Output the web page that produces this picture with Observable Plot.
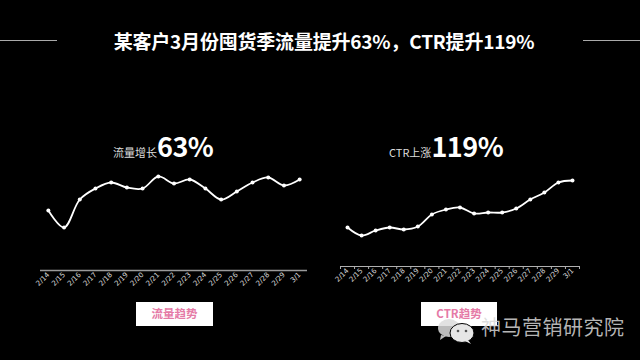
<!DOCTYPE html>
<html>
<head>
<meta charset="utf-8">
<script src="https://cdn.jsdelivr.net/npm/d3@7"></script>
<script src="https://cdn.jsdelivr.net/npm/@observablehq/plot@0.6"></script>
<style>
  html, body { margin: 0; padding: 0; background: #000; }
  #root { position: relative; width: 640px; height: 360px; background: #000; overflow: hidden;
          font-family: "Noto Sans CJK SC", "Noto Sans", sans-serif; color: #fff; }
  .abs { position: absolute; }
  #title { left: 0; width: 640px; top: 27px; text-align: center; font-size: 19px; font-weight: bold;
           letter-spacing: -0.2px; padding-left: 8px; box-sizing: border-box; }
  .hline { height: 1px; background: #aaa; top: 40px; }
  .head { top: 126px; white-space: nowrap; }
  .head .small { font-size: 11px; color: #ddd; }
  .head .big { font-size: 27px; font-weight: bold; letter-spacing: -0.5px; }
  .btn { background: #fff; color: #e57aa6; font-size: 11.5px; font-weight: bold; text-align: center;
         line-height: 22px; height: 24px; top: 302px; }
  #wm { left: 481px; top: 312px; font-size: 20px; color: rgba(215,215,215,0.85); letter-spacing: 0.5px; }
</style>
</head>
<body>
<div id="root">
  <div class="abs hline" style="left:0;width:57px;"></div>
  <div class="abs hline" style="left:583px;width:57px;top:39.5px;"></div>
  <div id="title" class="abs"></div>
  <div class="abs head" id="headL" style="left:113px;"><span class="small"></span><span class="big"></span></div>
  <div class="abs head" id="headR" style="left:389px;"><span class="small"></span><span class="big"></span></div>
  <div id="chartL" class="abs" style="left:0;top:0;"></div>
  <div id="chartR" class="abs" style="left:320px;top:0;"></div>
  <div class="abs btn" id="btnL" style="left:136px;width:77px;"></div>
  <div class="abs btn" id="btnR" style="left:421px;width:76px;"></div>
  <svg class="abs" style="left:437px;top:318px;" width="42" height="26">
    <ellipse cx="12" cy="10" rx="11" ry="9" fill="rgba(220,220,220,0.85)"/>
    <path d="M4 17 L3 22 L9 18 Z" fill="rgba(220,220,220,0.85)"/>
    <ellipse cx="25" cy="15" rx="12" ry="9.5" fill="#e6e6e6" stroke="#000" stroke-width="1"/>
    <path d="M31 22 L34 26 L28 23 Z" fill="#e6e6e6"/>
    <circle cx="21" cy="13" r="1.3" fill="#555"/>
    <circle cx="29" cy="13" r="1.3" fill="#555"/>
  </svg>
  <div id="wm" class="abs"></div>
</div>
<script>
const title = "某客户3月份囤货季流量提升63%，CTR提升119%";
const dates = ["2/14","2/15","2/16","2/17","2/18","2/19","2/20","2/21","2/22","2/23","2/24","2/25","2/26","2/27","2/28","2/29","3/1"];
const traffic = [60, 43, 71, 82, 88, 83, 82, 94, 87, 91, 82, 71, 79, 88, 93, 85, 91];
const ctr = [39, 31, 36, 39, 37, 40, 52, 57, 59, 53, 54, 54, 58, 67, 74, 84, 86];
const headLeft = ["流量增长", "63%"];
const headRight = ["CTR上涨", "119%"];
const buttons = ["流量趋势", "CTR趋势"];
const watermark = "神马营销研究院";

document.getElementById("title").textContent = title;
document.querySelector("#headL .small").textContent = headLeft[0];
document.querySelector("#headL .big").textContent = headLeft[1];
document.querySelector("#headR .small").textContent = headRight[0];
document.querySelector("#headR .big").textContent = headRight[1];
document.getElementById("btnL").textContent = buttons[0];
document.getElementById("btnR").textContent = buttons[1];
document.getElementById("wm").textContent = watermark;

const rowsL = dates.map((d, i) => ({date: d, v: traffic[i]}));
const rowsR = dates.map((d, i) => ({date: d, v: ctr[i]}));

function chart({rows, width, marginLeft, marginRight, axisY, axisColor, axisWidth, ticks}) {
  const innerW = width - marginLeft - marginRight;
  const half = innerW / dates.length / 2;
  const marks = [
    Plot.ruleY([0], {stroke: axisColor, strokeWidth: axisWidth}),
    Plot.axisX({tickSize: 0, tickRotate: -45, tickPadding: 3, fontSize: 7, fill: "#d8d8d8",
                fontFamily: "DejaVu Sans", label: null}),
    Plot.line(rows, {x: "date", y: "v", stroke: "#fff", strokeWidth: 1.8, curve: "catmull-rom"}),
    Plot.dot(rows, {x: "date", y: "v", r: 2, fill: "#fff"})
  ];
  if (ticks) {
    marks.push(Plot.ruleX(dates, {x: d => d, y1: 0, y2: -3, dx: -half, stroke: axisColor}));
    marks.push(Plot.ruleX(dates.slice(-1), {x: d => d, y1: 0, y2: -3, dx: half, stroke: axisColor}));
  }
  return Plot.plot({
    width, height: 360,
    marginLeft, marginRight, marginTop: 0, marginBottom: 360 - axisY,
    style: {background: "transparent", color: "#fff", overflow: "visible"},
    x: {type: "point", domain: dates, padding: 0.5, round: false},
    y: {domain: [0, 100], range: [axisY, axisY - 100], axis: null},
    marks
  });
}

document.getElementById("chartL").append(chart({rows: rowsL, width: 320, marginLeft: 40, marginRight: 13,
  axisY: 270, axisColor: "#9a9a9a", axisWidth: 1.6, ticks: false}));
document.getElementById("chartR").append(chart({rows: rowsR, width: 300, marginLeft: 20, marginRight: 41,
  axisY: 266, axisColor: "#b0b0b0", axisWidth: 1, ticks: true}));
</script>
</body>
</html>
